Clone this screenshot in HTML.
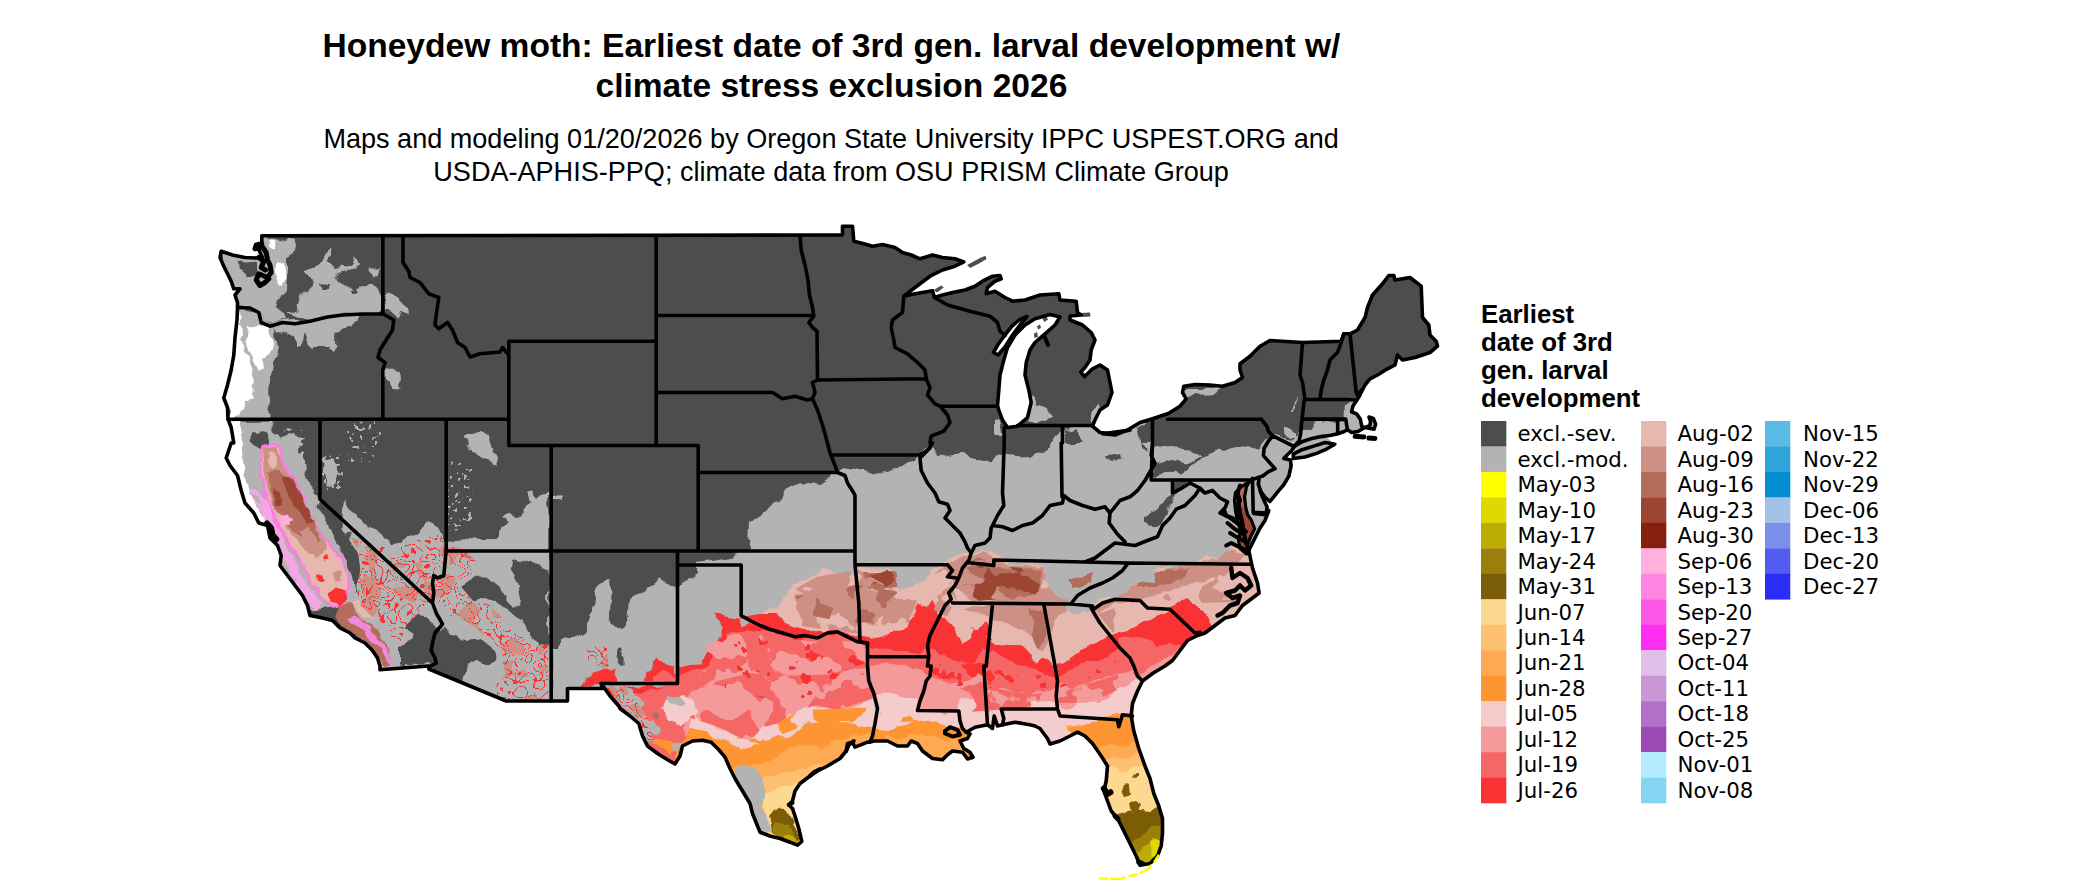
<!DOCTYPE html>
<html><head><meta charset="utf-8"><title>Honeydew moth</title>
<style>
html,body{margin:0;padding:0;background:#fff}
svg{display:block}
.t{font-family:"Liberation Sans",Arial,sans-serif;font-weight:bold;font-size:33.55px;text-anchor:middle;fill:#000}
.s{font-family:"Liberation Sans",Arial,sans-serif;font-size:27.07px;text-anchor:middle;fill:#000}
.lt{font-family:"Liberation Sans",Arial,sans-serif;font-weight:bold;font-size:25.8px;fill:#000}
.ll{font-family:"DejaVu Sans",Verdana,sans-serif;font-size:21.3px;fill:#000}
.b{fill:none;stroke:#000;stroke-width:3.6;stroke-linejoin:round;stroke-linecap:round}
</style></head><body>
<svg width="2100" height="892" viewBox="0 0 2100 892">
<rect width="2100" height="892" fill="#fff"/>
<defs>
<filter id="rough" x="-5%" y="-5%" width="110%" height="110%" color-interpolation-filters="sRGB"><feTurbulence type="fractalNoise" baseFrequency="0.045" numOctaves="3" seed="7" result="n"/><feDisplacementMap in="SourceGraphic" in2="n" scale="14" xChannelSelector="R" yChannelSelector="G"/></filter>
<filter id="rough2" x="-5%" y="-5%" width="110%" height="110%" color-interpolation-filters="sRGB"><feTurbulence type="fractalNoise" baseFrequency="0.09" numOctaves="2" seed="3" result="n"/><feDisplacementMap in="SourceGraphic" in2="n" scale="7" xChannelSelector="R" yChannelSelector="G"/></filter>
<filter id="desert" x="0" y="0" width="100%" height="100%" color-interpolation-filters="sRGB">
<feTurbulence type="fractalNoise" baseFrequency="0.05" numOctaves="2" seed="11" result="n"/>
<feColorMatrix in="n" type="matrix" values="0 0 0 0 0.976  0 0 0 0 0.2  0 0 0 0 0.2  2.2 0 0 0 -0.6" result="a"/>
<feComponentTransfer in="a" result="lines"><feFuncA type="discrete" tableValues="0 0 0 0 0 1 0 0 0 0 0 1 0 0 0 0 0 1 0 0 0 0 0 0"/></feComponentTransfer>
<feColorMatrix in="n" type="matrix" values="0 0 0 0 0.8  0 0 0 0 0.565  0 0 0 0 0.518  0 2.2 0 0 -0.6" result="b"/>
<feComponentTransfer in="b" result="blobs"><feFuncA type="discrete" tableValues="0 0 0 0 0 0 0 0 0 0 0 0 0 0 1 1 1 1 1 1"/></feComponentTransfer>
<feMerge result="m"><feMergeNode in="SourceGraphic"/><feMergeNode in="blobs"/><feMergeNode in="lines"/></feMerge>
<feComposite in="m" in2="SourceAlpha" operator="in"/>
</filter>
<filter id="blobs50" x="0" y="0" width="100%" height="100%" color-interpolation-filters="sRGB"><feTurbulence type="fractalNoise" baseFrequency="0.035" numOctaves="3" seed="21" result="n"/><feColorMatrix in="n" type="matrix" values="0 0 0 0 0  0 0 0 0 0  0 0 0 0 0  60.0 0 0 0 -30.0" result="m"/><feComposite in="SourceGraphic" in2="m" operator="in"/></filter>
<filter id="blobs30" x="0" y="0" width="100%" height="100%" color-interpolation-filters="sRGB"><feTurbulence type="fractalNoise" baseFrequency="0.04" numOctaves="3" seed="5" result="n"/><feColorMatrix in="n" type="matrix" values="0 0 0 0 0  0 0 0 0 0  0 0 0 0 0  60.0 0 0 0 -34.199999999999996" result="m"/><feComposite in="SourceGraphic" in2="m" operator="in"/></filter>
<filter id="speck" x="0" y="0" width="100%" height="100%" color-interpolation-filters="sRGB"><feTurbulence type="fractalNoise" baseFrequency="0.22" numOctaves="2" seed="9" result="n"/><feColorMatrix in="n" type="matrix" values="0 0 0 0 0  0 0 0 0 0  0 0 0 0 0  60.0 0 0 0 -38.4" result="m"/><feComposite in="SourceGraphic" in2="m" operator="in"/></filter>
<filter id="blobs12" x="0" y="0" width="100%" height="100%" color-interpolation-filters="sRGB"><feTurbulence type="fractalNoise" baseFrequency="0.06" numOctaves="3" seed="8" result="n"/><feColorMatrix in="n" type="matrix" values="0 0 0 0 0  0 0 0 0 0  0 0 0 0 0  60.0 0 0 0 -39.300000000000004" result="m"/><feComposite in="SourceGraphic" in2="m" operator="in"/></filter>
<clipPath id="land"><path d="M261.8 235.8L842.5 235L842.5 226.2L852.5 226.2L853.8 241.2L863.8 243.8L872.5 246.2L882.5 244.5L895 247.5L902.5 252.5L911.2 255L920 258.8L932.5 255L942.5 257.5L955 258.8L963.8 262L955 266.2L942.5 270L930 276.2L920 283.8L910 291.2L903.8 296.2L915 293.8L932.5 290.8L934.5 297.5L942.5 295L952.5 292.5L965 290L975 286.2L982.5 281.2L992.5 276.2L1000 275.5L1001.2 278.8L995 281.2L987.5 287.5L986.2 293.8L995 291.2L1005 297.5L1012.5 301.2L1025 300L1040 295L1058.8 293.8L1060 300L1076.2 301.2L1077.5 312.5L1081.2 315L1070 316L1070 320L1082.5 325L1091.2 332.5L1095 340L1091.2 350L1090 360L1085 367.5L1080.8 372L1084.5 376.5L1092.5 368.8L1100 365L1107.5 370L1110 382.5L1112 392.5L1107.5 405L1100 410L1095 420L1092.5 426.2L1100 432.5L1115 433.8L1130 430L1102.5 433.8L1115 435L1127.5 430L1140 422.5L1152.5 418.8L1167.5 413.8L1170 412.5L1180 406.2L1186.2 398.8L1182.5 392.5L1183.8 386.2L1195 384.5L1210 385L1222.5 386.2L1235 382.5L1242.5 377.5L1240 370L1240 363.8L1250 356.2L1260 346.2L1270 340.5L1302.5 342.5L1341.2 341.2L1343.8 333.8L1350 333.8L1357.5 330L1365 317.5L1367.5 307.5L1372.5 295L1382.5 283.8L1388.8 275.5L1393.8 275.5L1395 280L1410 277.5L1421.2 286.2L1422.5 317.5L1428.8 325L1430 335L1436.2 341.2L1437.5 346.2L1430 352.5L1415 357.5L1402.5 360L1397.5 355L1395 365L1387.5 368.8L1377.5 375L1370 378.8L1365 385L1361.2 392.5L1357.5 395L1361.8 390L1359.6 395.8L1356.7 400.2L1353 406L1351.6 411.9L1356.7 414L1360.3 419.1L1361.8 426.4L1369 428.2L1374.1 429.3L1375.6 424.2L1373.4 418.4L1369 417L1370.5 421.3L1369.8 425.7L1363.2 428.2L1358.1 431.5L1351.6 432.6L1347.2 429.6L1344.3 431.5L1337.7 433.7L1331.2 435.2L1321 436.6L1310.8 438.8L1302 441.7L1294.7 446.1L1291.1 451.2L1287.4 454.8L1283.8 458.5L1290.4 460L1291.1 465.8L1288.9 476L1283.8 484.7L1278.7 490.6L1272.9 497.8L1270 501.5L1265.6 497.8L1261.2 492L1258.3 484.7L1259 479.2L1258.3 483.3L1260.5 492L1264.1 500.8L1267 506.6L1266.3 513.1L1268.8 510.5L1265 520.5L1260 528L1255 538L1251.2 545.5L1248.8 550.5L1252.5 568L1257.5 583L1259.2 593L1252.5 598L1242.5 605.5L1235 615.5L1225 618L1215 625.5L1205 633L1197.5 635.5L1187.5 640.5L1180 650.5L1172.5 660.5L1165 666L1165 666L1152.5 673.5L1142.5 681L1137.5 691L1132.5 703.5L1131.2 716L1133.8 731L1138.8 748.5L1145 766L1150 778.5L1153.8 793.5L1158.8 806L1162.5 818.5L1162.5 833.5L1161.2 846L1157.5 856L1150 863.5L1140 865.2L1136.2 856L1130 843.5L1123.8 831L1117.5 818.5L1111.2 811L1107.5 801L1103.8 791L1106.2 781L1107.5 766L1101.2 756L1092.5 743.5L1085 736L1077.5 732.2L1070 736L1060 741L1050 744L1047.5 738.5L1040 728.5L1035 726L1030 724.8L1015 722.2L1002.5 724.8L997.5 726L994.2 716L992.5 728.5L987.5 724.8L975 727.2L966.2 732.2L970 734L967.5 738.5L960 741L963.8 748.5L970 752.2L973 757.2L967.5 759L962.5 752.2L952.5 751L947.5 754.8L942.5 759.8L932.5 758.5L922.5 751L917.5 743.5L911.2 741L907.5 746L897.5 746L887.5 741L875 741L867.5 742.2L855 747.2L852.5 742.2L847.5 743.5L846.2 751L840 758.5L827.5 766L817.5 771L810 776L800 783.5L795 791L792.5 801L788.8 804.8L792.5 808.5L795 816L798.8 828.5L801.8 841.5L797.5 845.2L790 842.2L780 838.5L770 836L760 832.2L757.5 826L752.5 813.5L750 803.5L742.5 791L735 778.5L730 768.5L725 757.2L718.8 749.8L711.2 742.2L702.5 740.2L692.5 741L682.5 746L680 756L675 764L667.5 759.8L657.5 753.5L647.5 746L642.5 736L638.8 723.5L630 716L620 708.5L618.8 706L610 696L601.2 683.5L602.5 688.5L567.5 688.5L567.5 701L551.2 701L506.2 701L428.8 669L428.8 666L380 669.8L380 666L377.5 658L372.5 650.5L365 643L355 638L350 633L340 628L332.5 620.5L322.5 618L310 615.5L307.5 605.5L302.5 595.5L295 585.5L287.5 575.5L280 565.5L281.2 555.5L277.5 545.5L270 538L267.5 525.5L258.8 523L253.8 513L245 503L241.2 490.5L237.5 475.5L230 465.5L226.2 458L231.2 443L233.8 443L231.2 427.5L228 419.2L227.5 407.5L223.8 398L227.5 385L231.2 370L233.8 355L235 337.5L237 320L237.5 307.5L237.5 302.5L235 295L240 288.8L233.8 288.8L231.2 281.2L227.5 273.8L223.8 266.2L220 257.5L221.2 251.2L232.5 255L245 257.5L257.5 258L262.5 257.5L258.8 250L261.8 243.8L261.8 235.8ZM1293.3 454.1L1294.7 447.6L1302 443.2L1313.7 439.5L1325.3 436.9L1334.8 444.2L1325.3 449.7L1316.6 453.4L1304.9 457L1293.3 458.5ZM967.2 265L980 258L985.5 255.8L986.5 259L980 263L970 268ZM933.8 290L941.2 285.5L943.8 287.5L937 292.5ZM1081.2 313L1090 312.5L1090.5 316.5L1082 317ZM1355.2 435.9L1360.3 434.4L1363.9 436.6L1359.6 438.8ZM1368.3 437.4L1373.4 436.3L1375.6 438.8L1371.2 440.3Z"/></clipPath>
</defs>
<text class="t" x="831.4" y="57.3">Honeydew moth: Earliest date of 3rd gen. larval development w/</text>
<text class="t" x="831.4" y="96.9">climate stress exclusion 2026</text>
<text class="s" x="831.1" y="148">Maps and modeling 01/20/2026 by Oregon State University IPPC USPEST.ORG and</text>
<text class="s" x="831.1" y="181">USDA-APHIS-PPQ; climate data from OSU PRISM Climate Group</text>
<g clip-path="url(#land)">
<rect x="200" y="200" width="1300" height="692" fill="#4d4d4d"/>
<g filter="url(#rough)">
<path fill="#b3b3b3" d="M620 633L627.5 618L632.5 598L645 590.5L660 578L670 585.5L682.5 583L695 578L695 563L715 560.5L730 558L748.8 548L750 525.5L760 515.5L770 505.5L780 500.5L785 490.5L800 483L820 485.5L837.5 475.5L845 469.2L850 468L867.5 473L885 470.5L900 468L912.5 460.5L920 455.5L932.5 445.5L940 458L952.5 455.5L965 453L977.5 458L990 459.2L1005 454.2L1020 456.8L1037.5 454.2L1050 445.5L1060 435L1070 429.5L1095 423.8L1145 418.8L1115 417.5L1151.2 417.5L1153 443L1153.8 478L1165 475.5L1175 470.5L1180 475.5L1190 468L1200 458L1215 451L1230 450.5L1245 446L1260 447.5L1265 440.5L1272 436L1290 440L1330 420L1345 430L1400 430L1500 600L1500 900L560 900L560 640Z"/>
<path fill="#b3b3b3" d="M552.3 649.8L563.3 651.4L575.9 646.7L585.3 634.1L588.4 618.4L593.2 605.9L597.9 587L608.9 579.2L610.4 593.3L607.3 605.9L610.4 621.6L619.8 629.4L627.7 618.4L632.4 599.6L648.1 587L663.8 580.1L679.5 583.9L701.5 571.3L720 568.2L720 710.2L552.3 710.2Z"/>
<path fill="#b3b3b3" d="M343.9 500.2L349.5 509.1L358.4 515.9L367.4 524.8L376.4 529.3L385.3 536L394.3 542.7L403.3 540.5L412.2 536L425 527.1L428.3 524.2L437.7 530.5L447.1 539.9L462.8 538.4L481.7 539.9L497.4 539.9L500.5 530.5L506.8 524.2L503.6 514.8L508.4 511.7L516.2 521.1L525.6 511.7L531.9 502.2L525.6 492.8L531.9 491.2L538.2 499.1L548.2 491.2L548.2 550.9L552.3 649.8L552.3 710.2L400 710.2L340.5 607.7L349.5 605.5L354 592.1L362.9 587.6L358.4 571.9L349.5 554L340.5 540.5Z"/>
<path fill="#b3b3b3" d="M462.8 436.3L487.9 434.7L494.2 455.1L495.8 469.3L484.8 458.3L472.2 452L467.5 445.7Z"/>
<path fill="#b3b3b3" d="M553.9 494.4L564.9 494.4L564.9 499.1L553.9 499.1Z"/>
<path fill="#4d4d4d" d="M462.8 583.9L475.4 577.6L486.4 577.6L497.4 587L505.2 599.6L513.1 605.9L520.9 596.5L517.8 580.8L511.5 568.2L513.1 558.8L525.6 561.9L538.2 566.6L548.2 568.2L548.2 646.7L538.2 646.7L531.9 634.1L519.3 618.4L506.8 609L494.2 601.2L484.8 598L472.2 601.2L466 605.9L459.7 596.5Z"/>
<path fill="#4d4d4d" d="M431.4 637.3L444 631L453.4 634.1L466 643.6L478.5 638.9L491.1 646.7L497.4 659.3L491.1 665.6L475.4 659.3L466 668.7L462.8 681.3L431.4 671.8L429.8 649.8Z"/>
<path fill="#4d4d4d" d="M400 605.9L412.6 615.3L425.1 618.4L431.4 631L418.8 637.3L409.4 631L400 624.7Z"/>
<path fill="#4d4d4d" d="M400 646.7L418.8 643.6L431.4 656.1L431.4 664L400 665.6Z"/>
<path fill="#4d4d4d" d="M336 542.7L349.5 533.8L358.4 549.5L362.9 567.4L358.4 585.3L349.5 571.9L340.5 558.4Z"/>
<path fill="#4d4d4d" d="M371.9 558.4L385.3 571.9L394.3 589.8L403.3 605.5L394.3 605.5L383.1 585.3L371.9 571.9Z"/>
<path fill="#4d4d4d" d="M619.8 646.7L624.6 646.7L624.6 665.6L619.8 665.6Z"/>
<path fill="#b3b3b3" d="M239.7 421.7L271 421.7L273.3 432.9L282.2 439.7L291.2 432.9L300.2 437.4L297.9 448.6L304.6 466.5L302.4 473.3L313.6 489L322.6 509.1L331.5 527.1L340.5 540.5L349.5 554L358.4 571.9L362.9 587.6L354 592.1L349.5 605.5L340.5 607.7L304.6 612.2L300.2 594.3L282.2 571.9L277.8 558.4L266.5 522.6L248.6 493.4L245.3 466.5L240.8 453.1L243 437.4Z"/>
<path fill="#4d4d4d" d="M252 432.9L268.8 435.2L271 444.1L259.8 448.6L253.1 444.1Z"/>
<path fill="#ffffff" d="M227.3 420.6L239.7 421.7L243 437.4L240.8 453.1L245.3 466.5L248.6 482.2L248.6 493.4L255.3 504.6L266.5 515.9L266.5 522.6L255.3 522.6L239.7 500.2L224 464.3L226.2 437.4Z"/>
<path fill="#b3b3b3" d="M220.1 250.8L261.5 235.1L277.2 238.4L295.2 240.7L292.9 249.7L286.2 258.6L287.3 267.6L284 278.8L287.3 290L277.2 299L275 307.9L281.7 313.5L284 321.4L270.5 325.9L262.7 323.6L260.4 312.4L252.6 309L238 307.9L219 292.2Z"/>
<path fill="#b3b3b3" d="M298.5 302.3L301.9 294.5L308.6 290L315.3 283.3L306.4 273.2L310.9 268.7L317.6 265.3L324.3 256.4L331 247.4L332.1 254.1L326.5 262L335.5 267.6L340 263.1L353.4 264.2L356.8 258.6L362.4 265.3L355.7 268.7L346.7 267.6L337.7 269.8L334.4 275.4L337.7 281L346.7 286.6L353.4 290L364.6 286.6L371.4 282.1L378.1 288.9L381.4 299L382.6 312.4L366.9 312.9L344.5 313.5L326.5 316.9L308.6 321.4L299.6 318L284 314.6L290.7 313.5L299.6 310.2Z"/>
<path fill="#b3b3b3" d="M371.4 267.6L380.3 267.6L379.2 273.2L372.5 273.2Z"/>
<path fill="#4d4d4d" d="M323.2 282.1L331 283.3L329.9 288.9L324.3 288.9Z"/>
<path fill="#4d4d4d" d="M349 290L355.7 288.9L356.8 293.4L350.1 294Z"/>
<path fill="#4d4d4d" d="M239.1 260.9L254.8 259.7L255.9 270.9L245.9 273.9L239.6 268.7Z"/>
<path fill="#ffffff" d="M275 262L282.2 260.9L283.5 276.5L279.9 285.1L274.5 282.1Z"/>
<path fill="#ffffff" d="M269.4 238.4L275.4 238.9L275 247.4L270.5 246.3Z"/>
<path fill="#b3b3b3" d="M270.5 325.9L284 322.5L308.6 321.4L326.5 316.9L344.5 313.5L357.9 313.5L357.9 321.4L349 328.1L335.5 331.5L332.1 337.1L332.1 352.7L327.7 347.1L315.3 347.1L313.1 350.5L308.6 341.5L305.2 334.8L300.8 346L295.2 347.1L289.6 334.8L284 330.3L275 330.3Z"/>
<path fill="#b3b3b3" d="M238 307.9L260.4 312.4L262.7 323.6L275 330.3L277.2 350.5L273.9 370.7L269.4 390.8L268.3 418.2L229 418.2L224.6 397.6L232.4 359.5L235.8 325.9Z"/>
<path fill="#ffffff" d="M248.1 325.9L266 327L272.8 337.1L270.5 350.5L263.8 359.5L264.9 368.4L258.2 370.7L253.7 364L248.1 350.5L247 337.1Z"/>
<path fill="#ffffff" d="M236.9 314.6L241.4 314.6L243.6 341.5L248.1 364L254.8 381.9L252.6 397.6L243.6 402.1L239.1 415.5L230.2 418.2L223.4 397.6L231.3 359.5L234.7 325.9Z"/>
<path fill="#b3b3b3" d="M385.9 299L391.5 295.6L400.5 299L407.2 307.9L406.1 313.5L400.5 310.2L398.3 319.1L394.9 314.6L387.1 312.4Z"/>
<path fill="#b3b3b3" d="M383.7 370.7L393.8 368.4L401.6 377.4L402.7 390.8L396 389.7L387.1 381.9Z"/>
<path fill="#b3b3b3" d="M324.8 459.8L336 457.6L340.5 471L336 486.7L327.1 486.7L323.7 473.3Z"/>
<path fill="#b3b3b3" d="M1030 395L1035 392.5L1036.2 405L1052.5 412.5L1045 420L1032.5 422.5L1027.5 420Z"/>
<path fill="#b3b3b3" d="M1090 412.5L1100 403.8L1101.2 410L1092.5 423Z"/>
<path fill="#b3b3b3" d="M995 417.5L1000 420L1002.5 435L995 435Z"/>
<path fill="#b3b3b3" d="M1183 387L1222.5 387L1215 392.5L1195 392.5L1186.2 398.8Z"/>
<path fill="#b3b3b3" d="M1283.1 426.4L1287.4 427.9L1293.3 432.3L1296.2 433.7L1296.2 438.1L1287.4 438.1L1284.5 433.7Z"/>
<path fill="#b3b3b3" d="M1291.8 411.9L1296.2 398.7L1297.3 398.7L1294 411.9Z"/>
<path fill="#b3b3b3" d="M1300.6 433L1310.8 430.8L1313.7 423.5L1321 422.1L1326.8 426.4L1334.1 425L1337.7 419.9L1345.7 419.1L1345.7 404.6L1353 400.2L1360.3 398.7L1382.2 426.4L1374.9 442.5L1294.7 448.3Z"/>
<path fill="#b3b3b3" d="M1153.8 448L1170 445L1190 446.8L1202.5 454.2L1190 461.8L1175 459.2L1165 465.5L1153.8 463Z"/>
<path fill="#4d4d4d" d="M1145 518L1152.5 513L1165 503L1172.5 495.5L1180 490.5L1176.2 500.5L1167.5 510.5L1160 520.5L1150 526.8L1145 523Z"/>
<path fill="#4d4d4d" d="M1175 480.5L1190 480.5L1180 490.5L1175 493Z"/>
<path fill="#4d4d4d" d="M1110 455.5L1120 453L1121.2 460.5L1112.5 463Z"/>
<path fill="#4d4d4d" d="M1065 432.5L1080 431.2L1082.5 443L1065 443Z"/>
<path fill="#4d4d4d" d="M1136.2 427.5L1152 420L1152.5 443L1140 443L1150 450.5L1140 448Z"/>
</g>
<g filter="url(#rough2)">
<path fill="#e6b8af" d="M781.4 604.2L786.4 591.8L798.7 581.9L816 574.5L823.4 567.1L833.2 572.1L843.1 579.5L853 574.5L857.9 567.1L872.7 567.1L887.5 568.4L897.4 577L897.4 589.3L909.7 586.9L922.1 579.5L934.4 569.6L946.7 562.2L959.1 554.8L968.9 552.3L978.8 554.8L991.1 552.3L1003.5 557.3L960 554.8L974.8 552.3L984.7 549.9L992.1 554.8L1004.4 559.7L1009.3 564.7L1016.7 567.1L1024.2 564.7L1034 564.7L1043.9 565.9L1132.7 565.9L1154.9 567.1L1164.8 567.1L1177.1 567.1L1189.5 567.1L1196.9 562.2L1204.3 557.3L1216.6 558.5L1226.5 552.3L1231.4 544.9L1238.8 540L1268.4 540L1500 600L1500 900L560 900L759.2 614Z"/>
<path fill="#cc9084" d="M793.8 596.7L811 589.3L828.3 589.3L848 591.8L857.9 584.4L872.7 589.3L892.5 591.8L897.4 604.2L887.5 614L872.7 623.9L853 621.4L838.2 614L818.4 614L803.6 611.6Z"/>
<path fill="#cc9084" d="M946.7 564.7L961.5 557.3L978.8 557.3L1003.5 559.7L960 557.3L984.7 552.3L1009.3 565.9L1043.9 567.1L1045.1 577L1041.4 589.3L1053.8 584.4L1063.6 579.5L1078.4 577L1093.2 572.1L1083.4 586.9L1071 601.7L1066.1 611.6L1053.8 621.4L1048.8 638.7L1043.9 651L1036.5 643.6L1021.7 628.8L1004.4 623.9L984.7 614L960 609.1L996.1 599.2L971.4 601.7L956.6 589.3Z"/>
<path fill="#cc9084" d="M1117.9 596.7L1132.7 584.4L1154.9 584.4L1164.8 568.4L1196.9 563.4L1216.6 559.7L1231.4 547.4L1246.2 554.8L1231.4 569.6L1206.7 579.5L1182.1 586.9L1157.4 594.3L1132.7 601.7L1113 604.2L1098.2 614L1093.2 609.1Z"/>
<path fill="#b46c5d" d="M845.6 609.1L857.9 606.6L872.7 611.6L872.7 621.4L857.9 623.9L848 619Z"/>
<path fill="#b46c5d" d="M860.4 572.1L897.4 572.1L897.4 586.9L877.6 589.3L862.8 584.4Z"/>
<path fill="#b46c5d" d="M966.5 567.1L1003.5 562.2L960 562.2L979.7 559.7L997 567.1L1021.7 569.6L1041.4 569.6L1041.4 586.9L1029.1 596.7L1009.3 599.2L997 589.3L979.7 584.4L960 584.4L1001 589.3L983.7 581.9Z"/>
<path fill="#b46c5d" d="M1132.7 577L1154.9 574.5L1164.8 569.6L1189.5 569.6L1182.1 579.5L1157.4 586.9L1137.6 586.9Z"/>
<path fill="#b46c5d" d="M1026.6 609.1L1043.9 611.6L1046.4 633.8L1039 648.6L1031.6 638.7L1034 621.4Z"/>
<path fill="#9c4532" d="M870.2 574.5L887.5 570.8L894.9 579.5L885 585.6L872.7 583.2Z"/>
<path fill="#9c4532" d="M997 574.5L1016.7 572.1L1041.4 584.4L1034 594.3L1014.3 589.3L999.5 584.4Z"/>
<path fill="#b3b3b3" d="M1045.1 565.9L1157.4 565.9L1154.9 572.1L1154.9 583.2L1142.6 581.5L1132.7 583.9L1130.2 589.3L1117.9 596.3L1098.2 599.2L1093.2 607.9L1088.3 612.8L1076 614L1066.1 607.9L1068.6 600.4L1058.7 595.5L1051.3 589.3L1045.1 579.5Z"/>
<path fill="#b3b3b3" d="M857.9 567.6L872.7 567.6L890 569.1L897.4 577L897.4 589.3L909.7 586.9L922.1 579.5L931.9 570.8L931.9 565.9L857.9 565.9Z"/>
<path fill="#b46c5d" d="M1068.6 581.9L1078.4 577L1093.2 572.1L1090.8 579.5L1078.4 586.9L1071 588.1Z"/>
<path fill="#f93333" d="M600.5 686.8L678.2 686.8L678.2 667.6L689.3 665L701.5 664.6L705.5 652.9L713.6 646.8L721.6 638.3L721.6 626.2L714 612.5L725.7 616.5L737.8 618.6L741.8 626.2L753.9 622.6L737 619L741.9 617L759.2 614L774 614L786.4 623.9L803.6 628.8L823.4 631.3L840.6 631.3L857.9 636.2L872.7 638.7L882.6 636.2L894.9 631.3L907.3 626.4L912.2 614L917.1 604.2L927 609.1L933.2 599.2L936.9 609.1L946.7 619L956.6 633.8L961.5 643.6L971.4 636.2L978.8 621.4L986.2 621.4L991.1 638.7L1003.5 643.6L960 621.4L969.9 616.5L984.7 621.4L987.1 638.7L997 646.1L1009.3 643.6L1024.2 646.1L1031.6 656L1036.5 663.4L1043.9 658.4L1053.8 665.8L1063.6 663.4L1073.5 656L1083.4 648.6L1093.2 643.6L1105.6 638.7L1113 633.8L1127.8 631.3L1142.6 621.4L1157.4 616.5L1169.7 611.6L1177.1 601.7L1187 598L1196.9 604.2L1204.3 614L1209.2 621.4L1221.5 643.6L1500 600L1500 900L560 900L600.5 842.2Z"/>
<path fill="#f56666" d="M600.5 696.9L661.1 688.8L681.3 675.1L693.4 671L707.5 667L713.6 654.9L725.7 644.8L727.7 632.7L741.8 630.7L760 630.3L764.2 628.8L781.4 636.2L793.8 638.7L808.6 638.7L823.4 636.2L840.6 633.8L857.9 638.7L870.2 648.6L887.5 651L904.8 651L922.1 653.5L931.9 648.6L946.7 656L959.1 660.9L971.4 663.4L983.7 648.6L996.1 656L1008.4 660.9L960 663.4L972.3 678.2L984.7 673.2L992.1 651L1001.9 656L1014.3 663.4L1029.1 668.3L1041.4 673.2L1053.8 678.2L1063.6 673.2L1078.4 665.8L1093.2 660.9L1108 656L1117.9 648.6L1117.9 638.7L1132.7 636.2L1147.5 638.7L1157.4 646.1L1172.2 643.6L1184.5 648.6L1191.9 668.3L1500 600L1500 900L560 900L600.5 842.2Z"/>
<path fill="#f49a9a" d="M685.2 697.9L700 688L714.8 678.2L729.6 680.6L749.3 673.2L764.2 676.9L774 680.6L786.4 674.5L803.6 670.8L816 668.3L828.3 673.2L848 670.8L870.2 665.8L887.5 663.4L904.8 665.8L922.1 670.8L934.4 678.2L949.2 683.1L966.5 680.6L978.8 673.2L991.1 678.2L1008.4 674.5L960 688L974.8 697.9L987.1 690.5L999.5 688L1016.7 693L1034 693L1053.8 688L1058.7 683.1L1071 688L1088.3 683.1L1103.1 678.2L1117.9 673.2L1132.7 668.3L1137.6 678.2L1147.5 668.3L1157.4 663.4L1169.7 656L1179.6 651L1187 663.4L1500 600L1500 900L560 900L685.2 786.7Z"/>
<path fill="#f4cccc" d="M690.1 717.6L700 720.1L719.7 727.5L737 737.4L749.3 742.3L761.7 727.5L781.4 722.6L798.7 710.2L816 705.3L838.2 710.2L857.9 707.8L872.7 697.9L887.5 690.5L904.8 697.9L917.1 697.9L922.1 710.2L956.6 710.2L961.5 697.9L983.7 700.4L1001 710.2L960 712.7L974.8 710.2L987.1 712.7L1004.4 707.8L1021.7 707.8L1034 700.4L1053.8 702.8L1066.1 710.2L1078.4 702.8L1093.2 702.8L1108 697.9L1117.9 688L1132.7 683.1L1142.6 678.2L1147.5 688L1500 600L1500 900L560 900L690.1 786.7Z"/>
<path fill="#fd9533" d="M690.1 727.5L700 730L714.8 737.4L732.1 744.8L744.4 749.7L759.2 742.3L774 737.4L793.8 734.9L808.6 722.6L828.3 720.1L848 722.6L870.2 727.5L887.5 730L904.8 725L922.1 720.1L936.9 722.6L946.7 727.5L961.5 728.7L971.4 737.4L1020 737.4L1020 900L600 900Z"/>
<path fill="#fd9533" d="M1088.3 727.5L1098.2 725L1110.5 722.6L1113 712.7L1130.2 715.2L1147.5 717.6L1157.4 762.1L1098.2 762.1Z"/>
<path fill="#fdaa52" d="M725 771L740 766L760 763.5L775 758.5L790 748.5L805 743.5L820 748.5L835 741L850 736L870 733.5L870 748.5L795 846L745 846Z"/>
<path fill="#fdaa52" d="M885 736L900 738.5L915 733.5L932.5 736L945 741L955 738.5L975 766L895 766Z"/>
<path fill="#fdc070" d="M750 783.5L765 776L780 773.5L795 771L810 766L820 763.5L825 771L795 846L760 846Z"/>
<path fill="#fdd890" d="M762.5 796L775 788.5L790 786L800 783.5L805 791L800 846L770 846Z"/>
<path fill="#b3b3b3" d="M733.8 769.8L745 764L755 768.5L762.5 778.5L765 791L762 806L767.5 821L771.8 833L758.8 832.2L751.2 813.5L741.2 791Z"/>
<path fill="#7b5c07" d="M769.2 814.8L780 807.2L790 813.5L795 826L800.5 838.5L795 846L782.5 839.8L772 834Z"/>
<path fill="#9a800a" d="M773 824L782.5 822.2L792.5 828.5L798.8 839.8L795 846L782.5 839.8L772.5 834Z"/>
<path fill="#bdac03" d="M782.5 833.5L795 836L800 842.2L795 846L785 841Z"/>
<path fill="#fd9533" d="M1065 726L1090 723.5L1115 713.5L1135 713.5L1165 751L1090 751Z"/>
<path fill="#fdaa52" d="M1097.5 748.5L1110 743.5L1122.5 748.5L1135 741L1145 748.5L1150 766L1097.5 766Z"/>
<path fill="#fdc070" d="M1100 761L1112.5 756L1125 759.8L1137.5 753.5L1150 761L1152.5 773.5L1100 773.5Z"/>
<path fill="#fdd890" d="M1100 771L1112.5 766L1122.5 771L1140 764.8L1152.5 771L1170 826L1100 826Z"/>
<path fill="#7b5c07" d="M1115 816L1125 812.2L1140 809.8L1150 811L1160 806L1170 866L1115 866Z"/>
<path fill="#7b5c07" d="M1130 802.2L1136.2 799.8L1140 806L1137.5 812.2L1131.2 811Z"/>
<path fill="#7b5c07" d="M1122.5 786L1128.8 784.8L1130 796L1125 797.2Z"/>
<path fill="#7b5c07" d="M1132 773.5L1137 773L1137 777.5L1132.5 778Z"/>
<path fill="#9a800a" d="M1122.5 836L1132.5 841L1145 833.5L1152.5 826L1162.5 826L1165 866L1125 866Z"/>
<path fill="#bdac03" d="M1127.5 848.5L1140 851L1150 843.5L1157.5 846L1165 866L1130 866Z"/>
<path fill="#e0d800" d="M1150 841L1157.5 838.5L1163.8 841L1162.5 856L1152.5 858.5Z"/>
<path fill="#e6b8af" d="M1235 583L1247.5 578L1265 583L1265 618L1230 618L1220 603Z"/>
<path fill="#b3b3b3" d="M1252.5 480.5L1272.5 483L1271.2 510.5L1265 523L1257.5 535.5L1251.2 545.5L1248.8 540.5L1250.5 525.5L1248.8 508L1245 493Z"/>
<path fill="#b46c5d" d="M1246.6 483.4L1240.5 487.4L1235.5 492.5L1234.5 500.5L1235.5 510.6L1237.5 520.7L1240.5 530.8L1238.5 540.9L1240.5 548.9L1246.6 554L1248.6 554L1247.6 544.9L1250.6 536.8L1254.6 528.8L1251.6 520.7L1247.6 514.6L1245.6 506.6L1244.6 496.5L1246.6 486.4L1249.6 481.4Z"/>
<path fill="#9c4532" d="M1240.5 506.6L1245.6 507.6L1249.6 520.7L1252.6 528.8L1248.6 540.9L1245.6 552L1241.5 546.9L1240.5 530.8L1238.5 518.7Z"/>
<path fill="#ff58e8" d="M1261.2 492L1265.6 494.9L1270 500.8L1266.3 502.9L1262.7 497.8Z"/>
<path fill="#ff58e8" d="M1280 488L1283.8 484.2L1286.2 486.8L1282 491.8Z"/>
</g>
<g filter="url(#rough2)">
<path fill="#f3a6e4" d="M248.6 489L259.8 491.2L268.8 504.6L273.3 515.9L280 522.6L282.2 540.5L291.2 554L300.2 571.9L309.1 587.6L320.3 603.3L313.6 612.2L306.9 598.8L300.2 589.8L291.2 571.9L282.2 558.4L280 545L271 536L268.8 522.6L255.3 504.6Z"/>
<path fill="#b3b3b3" d="M250.9 493.4L258.7 495.7L263.2 504.6L257.6 503.5Z"/>
<path fill="none" stroke="#ff7ae6" stroke-width="5" d="M267.7 446.4L273.3 445.3L278.9 448.6L282.2 459.8L289 475.5L297.9 489L304.6 504.6L311.4 520.3L320.3 536L331.5 549.5L340.5 558.4L345 571.9L347.2 587.6L343.9 601L336 605.5L327.1 602.1L320.3 592.1L311.4 580.8L306.9 569.6L300.2 558.4L291.2 545L282.2 531.5L275.5 515.9L268.8 500.2L264.3 482.2L259.8 464.3L263.2 453.1Z"/>
<path fill="#e6b8af" d="M267.7 446.4L273.3 445.3L278.9 448.6L282.2 459.8L289 475.5L297.9 489L304.6 504.6L311.4 520.3L320.3 536L331.5 549.5L340.5 558.4L345 571.9L347.2 587.6L343.9 601L336 605.5L327.1 602.1L320.3 592.1L311.4 580.8L306.9 569.6L300.2 558.4L291.2 545L282.2 531.5L275.5 515.9L268.8 500.2L264.3 482.2L259.8 464.3L263.2 453.1Z"/>
<path fill="#cc9084" d="M265.4 448.6L275.5 446.4L282.2 459.8L290.1 475.5L299 489L305.8 504.6L313.6 520.3L322.6 537.1L327.1 549.5L315.9 558.4L304.6 549.5L293.4 536L284.5 524.8L275.5 511.4L269.9 497.9L265.4 480L261.6 462.1Z"/>
<path fill="#b46c5d" d="M267.7 471L280 468.8L290.1 480L300.2 493.4L306.9 509.1L314.7 524.8L320.3 538.3L313.6 547.2L304.6 540.5L293.4 531.5L284.5 522.6L275.5 509.1L271 495.7Z"/>
<path fill="#9c4532" d="M282.2 475.5L290.1 477.8L300.2 492.3L306.9 506.9L313.6 522.6L308 524.8L301.3 513.6L293.4 504.6L286.7 491.2Z"/>
<path fill="#9c4532" d="M273.3 489L280 491.2L282.2 504.6L276.6 506.9Z"/>
<path fill="#e6b8af" d="M268.8 453.1L274.4 452L277.8 464.3L272.1 468.8L267.7 462.1Z"/>
<path fill="#cc9084" d="M300.2 531.5L309.1 527.1L318.1 540.5L313.6 554L304.6 549.5Z"/>
<path fill="#cc9084" d="M333.8 571.9L340.5 569.6L341.6 580.8L336 583.1Z"/>
<path fill="#ffb0dd" d="M278.9 515.9L286.7 513.6L291.2 519.2L289 524.8L282.2 524.8Z"/>
<path fill="#f93333" d="M329.3 592.1L337.1 587.6L346.1 592.1L347.2 601L340.5 605.5L331.5 602.1Z"/>
<path fill="#f93333" d="M323 556.2L327.1 555.1L328.2 559.6L324.4 560.7Z"/>
<path fill="#f93333" d="M315.9 576.8L322.6 575.9L323.7 580.4L317 581.3Z"/>
<path fill="#b46c5d" d="M340 605.5L350 603L360 618L375 628L385 643L392.5 666L382.5 666L375 650.5L365 640.5L350 630.5L340 623L335 615.5Z"/>
<path fill="#e6b8af" d="M350 603L365 598L375 605.5L390 610.5L400 618L390 623L375 618L362.5 615.5Z"/>
<path fill="#f08ad8" d="M347.5 618L355 615.5L370 628L382.5 643L390 658L395 666L391.2 666L380 648L365 633L350 623Z"/>
</g>
<g filter="url(#rough2)">
<path fill="#f93333" d="M580.4 686.8L586.4 678.7L594.5 672.7L606.6 668.6L614.7 670.6L615.1 682.3L580.4 687.2Z"/>
<path fill="#f93333" d="M644.9 672.7L653 666.6L657.1 656.5L665.1 664.6L675.2 666.6L677.6 682.3L644.9 682.3Z"/>
<path fill="#f56666" d="M653 676.7L661.1 670.6L669.2 672.7L677.2 676.7L677.6 682.3L653 682.3Z"/>
<path fill="#f4cccc" d="M665.1 700.9L681.3 694.9L693.4 700.9L697.4 713L681.3 725.1L669.2 721.1L663.1 709Z"/>
<path fill="#b3b3b3" d="M667.1 694.9L679.3 696.9L685.3 702.9L681.3 706L671.2 702.9L666.1 698.9Z"/>
<path fill="#b3b3b3" d="M620.7 686.8L632.8 688.8L644.9 704.9L640.9 709L628.8 696.9Z"/>
<path fill="#b3b3b3" d="M644.9 719.1L653 721.1L661.1 729.2L657.1 735.2L649 733.2L643.9 725.1Z"/>
<path fill="#b46c5d" d="M650.6 714L657.1 713.4L658.1 719.5L652 720.7Z"/>
<path fill="#fd9533" d="M649 741.3L661.1 739.3L673.2 741.3L681.3 743.3L677.2 749.3L669.2 754.4L661.1 746.3Z"/>
<path fill="#b3b3b3" d="M672.2 743.3L681.3 743.7L680.3 750.4L674.2 751.4Z"/>
<path fill="#b3b3b3" d="M679.3 622.2L684.3 621.2L685.3 626.2L680.3 627.2Z"/>
<path fill="#4d4d4d" d="M320 500.5L330 505.5L340 525.5L350 543L360 563L365 583L360 593L352.5 583L347.5 563L337.5 543L327.5 523L317.5 508Z"/>
<path fill="#4d4d4d" d="M400.5 604.8L412.7 612.8L424.8 616.9L434.9 624.9L440.9 633L434.9 641.1L432.8 659.3L428.8 661.3L406.6 661.3L400.5 649.2L406.6 641.1L416.7 633L408.6 620.9Z"/>
<path fill="#4d4d4d" d="M434.9 633L444.9 629L453 637.1L465.1 641.1L481.3 639.1L493.4 649.2L497.4 661.3L489.3 665.3L477.2 657.2L465.1 661.3L461.1 673.4L444.9 673.4L434.9 665.3Z"/>
<path fill="#4d4d4d" d="M461.1 586.6L477.2 578.5L493.4 580.5L501.5 592.7L493.4 600.7L481.3 596.7L469.2 600.7Z"/>
</g>
<g filter="url(#desert)">
<path fill="#b3b3b3" d="M352.1 538.2L364.2 540.2L380.4 546.2L396.5 550.3L408.6 542.2L424.8 538.2L440.9 534.1L444.9 546.2L461.1 548.3L469.2 554.3L481.3 566.4L469.2 576.5L453 580.5L444.9 590.6L434.9 600.7L424.8 604.8L416.7 614.9L406.6 624.9L400.5 641.1L392.5 641.1L386.4 624.9L372.3 616.9L360.2 604.8L356.1 586.6L360.2 570.5L358.2 554.3Z"/>
<path fill="#b3b3b3" d="M434.9 580.5L449 576.5L461.1 586.6L473.2 600.7L489.3 604.8L501.5 616.9L513.6 633L529.7 641.1L541.8 649.2L547.9 661.3L547.9 700L497.4 700L495.4 685.5L505.5 673.4L501.5 657.2L489.3 641.1L477.2 629L465.1 620.9L449 614.9L436.9 600.7Z"/>
<path fill="#b3b3b3" d="M540 644.4L548.1 644.4L548.1 698.9L540 698.9Z"/>
<path fill="#b3b3b3" d="M586.4 646.4L606.6 646.4L608.6 666.6L600.5 668.6L588.4 660.5Z"/>
<path fill="#b3b3b3" d="M606.6 684.8L624.8 686.8L644.9 713L653 741.3L644.9 741.3L636.9 721.1L620.7 704.9Z"/>
</g>
<g filter="url(#blobs50)">
<path fill="#f56666" d="M690.1 688L714.8 679.4L749.3 674.5L786.4 675.7L828.3 674.5L870.2 667.1L872.7 697.9L838.2 710.2L816 705.3L798.7 710.2L781.4 722.6L761.7 727.5L749.3 742.3L719.7 727.5L690.1 717.6Z"/>
<path fill="#f49a9a" d="M700 648.6L732.1 633.8L764.2 633.8L808.6 641.2L857.9 641.2L870.2 651L870.2 665.8L828.3 673.2L786.4 674.5L749.3 673.2L700 685.6Z"/>
<path fill="#f56666" d="M960 690.5L999.5 689.3L1034 694.2L1071 689.3L1117.9 674.5L1132.7 684.3L1117.9 689.3L1093.2 702.8L1053.8 702.8L1021.7 707.8L960 712.7Z"/>
<path fill="#cc9084" d="M786.4 594.3L816 577L857.9 569.6L897.4 591.8L922.1 581.9L946.7 564.7L956.6 599.2L946.7 616.5L917.1 601.7L907.3 623.9L857.9 633.8L803.6 626.4L786.4 614Z"/>
<path fill="#e6b8af" d="M956.6 604.2L1003.5 601.7L960 611.6L1021.7 631.3L1034 656L1021.7 644.9L997 644.9L987.1 637.5L984.7 621.4L960 621.4L986.2 621.4L971.4 636.2L959.1 638.7Z"/>
<path fill="#cc9084" d="M1098.2 614L1132.7 601.7L1182.1 586.9L1231.4 569.6L1243.7 601.7L1196.9 602.9L1177.1 600.4L1157.4 615.3L1113 632.5Z"/>
</g>
<g filter="url(#blobs30)">
<path fill="#b46c5d" d="M793.8 596.7L857.9 584.4L897.4 591.8L887.5 614L853 623.9L803.6 614Z"/>
<path fill="#9c4532" d="M966.5 567.1L1003.5 562.2L960 562.2L1041.4 569.6L1041.4 596.7L960 601.7L971.4 601.7Z"/>
</g>
<g filter="url(#blobs12)">
<path fill="#f93333" d="M724.7 638.7L781.4 637.5L857.9 641.2L870.2 651L857.9 693L774 700.4L724.7 688Z"/>
<path fill="#f93333" d="M931.9 651L1008.4 660.9L960 663.4L1058.7 678.2L1117.9 648.6L1117.9 668.3L1058.7 688L960 688L931.9 673.2Z"/>
</g>
<g filter="url(#blobs30)">
<path fill="#fd9533" d="M700 720.1L749.3 741.1L798.7 710.2L857.9 707.8L922.1 710.2L946.7 712.7L946.7 728L922.1 721.3L848 723.8L808.6 723.8L759.2 743.6L700 731.2Z"/>
</g>
<g filter="url(#speck)">
<path fill="#b3b3b3" d="M320.3 455.3L342.7 455.3L342.7 491.2L320.3 491.2Z"/>
<path fill="#b3b3b3" d="M347.2 421.7L380.8 421.7L380.8 462.1L347.2 462.1Z"/>
<path fill="#b3b3b3" d="M447.1 461.4L472.2 461.4L472.2 530.5L447.1 530.5Z"/>
<path fill="#b3b3b3" d="M280 428.4L304.6 428.4L304.6 459.8L291.2 448.6Z"/>
</g>
</g>
<path fill="#fff" d="M997.5 406.2L998.8 390L1000 375L1003.8 360L1007.5 347.5L1015 335L1025 325L1035 318.8L1050 314.5L1060 317L1055 325L1045 333.8L1035 342.5L1030 350L1026.2 362.5L1025 375L1028.8 390L1031.2 402.5L1027.5 417.5L1017.5 426.2L1007.5 427.5L1002.5 420L998.8 410ZM993.5 352.5L998 344.5L1004.5 335.5L1012 326.2L1019 320L1027 316.5L1020 325L1012.5 335L1005 347L998 355Z"/>
<path fill="#4d4d4d" d="M1042.5 318.8L1046.2 316.2L1048 319.5L1044.5 322ZM1037 326.2L1040 324.5L1041 328L1038 329.5ZM1033.8 333.8L1037 332L1038 337L1034.5 338Z"/>
<path class="b" d="M261.8 235.8L842.5 235L842.5 226.2L852.5 226.2L853.8 241.2L863.8 243.8L872.5 246.2L882.5 244.5L895 247.5L902.5 252.5L911.2 255L920 258.8L932.5 255L942.5 257.5L955 258.8L963.8 262L955 266.2L942.5 270L930 276.2L920 283.8L910 291.2L903.8 296.2L915 293.8L932.5 290.8L934.5 297.5L942.5 295L952.5 292.5L965 290L975 286.2L982.5 281.2L992.5 276.2L1000 275.5L1001.2 278.8L995 281.2L987.5 287.5L986.2 293.8L995 291.2L1005 297.5L1012.5 301.2L1025 300L1040 295L1058.8 293.8L1060 300L1076.2 301.2L1077.5 312.5L1081.2 315L1070 316L1070 320L1082.5 325L1091.2 332.5L1095 340L1091.2 350L1090 360L1085 367.5L1080.8 372L1084.5 376.5L1092.5 368.8L1100 365L1107.5 370L1110 382.5L1112 392.5L1107.5 405L1100 410L1095 420L1092.5 426.2L1100 432.5L1115 433.8L1130 430L1102.5 433.8L1115 435L1127.5 430L1140 422.5L1152.5 418.8L1167.5 413.8L1170 412.5L1180 406.2L1186.2 398.8L1182.5 392.5L1183.8 386.2L1195 384.5L1210 385L1222.5 386.2L1235 382.5L1242.5 377.5L1240 370L1240 363.8L1250 356.2L1260 346.2L1270 340.5L1302.5 342.5L1341.2 341.2L1343.8 333.8L1350 333.8L1357.5 330L1365 317.5L1367.5 307.5L1372.5 295L1382.5 283.8L1388.8 275.5L1393.8 275.5L1395 280L1410 277.5L1421.2 286.2L1422.5 317.5L1428.8 325L1430 335L1436.2 341.2L1437.5 346.2L1430 352.5L1415 357.5L1402.5 360L1397.5 355L1395 365L1387.5 368.8L1377.5 375L1370 378.8L1365 385L1361.2 392.5L1357.5 395L1361.8 390L1359.6 395.8L1356.7 400.2L1353 406L1351.6 411.9L1356.7 414L1360.3 419.1L1361.8 426.4L1369 428.2L1374.1 429.3L1375.6 424.2L1373.4 418.4L1369 417L1370.5 421.3L1369.8 425.7L1363.2 428.2L1358.1 431.5L1351.6 432.6L1347.2 429.6L1344.3 431.5L1337.7 433.7L1331.2 435.2L1321 436.6L1310.8 438.8L1302 441.7L1294.7 446.1L1291.1 451.2L1287.4 454.8L1283.8 458.5L1290.4 460L1291.1 465.8L1288.9 476L1283.8 484.7L1278.7 490.6L1272.9 497.8L1270 501.5L1265.6 497.8L1261.2 492L1258.3 484.7L1259 479.2L1258.3 483.3L1260.5 492L1264.1 500.8L1267 506.6L1266.3 513.1L1268.8 510.5L1265 520.5L1260 528L1255 538L1251.2 545.5L1248.8 550.5L1252.5 568L1257.5 583L1259.2 593L1252.5 598L1242.5 605.5L1235 615.5L1225 618L1215 625.5L1205 633L1197.5 635.5L1187.5 640.5L1180 650.5L1172.5 660.5L1165 666L1165 666L1152.5 673.5L1142.5 681L1137.5 691L1132.5 703.5L1131.2 716L1133.8 731L1138.8 748.5L1145 766L1150 778.5L1153.8 793.5L1158.8 806L1162.5 818.5L1162.5 833.5L1161.2 846L1157.5 856L1150 863.5L1140 865.2L1136.2 856L1130 843.5L1123.8 831L1117.5 818.5L1111.2 811L1107.5 801L1103.8 791L1106.2 781L1107.5 766L1101.2 756L1092.5 743.5L1085 736L1077.5 732.2L1070 736L1060 741L1050 744L1047.5 738.5L1040 728.5L1035 726L1030 724.8L1015 722.2L1002.5 724.8L997.5 726L994.2 716L992.5 728.5L987.5 724.8L975 727.2L966.2 732.2L970 734L967.5 738.5L960 741L963.8 748.5L970 752.2L973 757.2L967.5 759L962.5 752.2L952.5 751L947.5 754.8L942.5 759.8L932.5 758.5L922.5 751L917.5 743.5L911.2 741L907.5 746L897.5 746L887.5 741L875 741L867.5 742.2L855 747.2L852.5 742.2L847.5 743.5L846.2 751L840 758.5L827.5 766L817.5 771L810 776L800 783.5L795 791L792.5 801L788.8 804.8L792.5 808.5L795 816L798.8 828.5L801.8 841.5L797.5 845.2L790 842.2L780 838.5L770 836L760 832.2L757.5 826L752.5 813.5L750 803.5L742.5 791L735 778.5L730 768.5L725 757.2L718.8 749.8L711.2 742.2L702.5 740.2L692.5 741L682.5 746L680 756L675 764L667.5 759.8L657.5 753.5L647.5 746L642.5 736L638.8 723.5L630 716L620 708.5L618.8 706L610 696L601.2 683.5L602.5 688.5L567.5 688.5L567.5 701L551.2 701L506.2 701L428.8 669L428.8 666L380 669.8L380 666L377.5 658L372.5 650.5L365 643L355 638L350 633L340 628L332.5 620.5L322.5 618L310 615.5L307.5 605.5L302.5 595.5L295 585.5L287.5 575.5L280 565.5L281.2 555.5L277.5 545.5L270 538L267.5 525.5L258.8 523L253.8 513L245 503L241.2 490.5L237.5 475.5L230 465.5L226.2 458L231.2 443L233.8 443L231.2 427.5L228 419.2L227.5 407.5L223.8 398L227.5 385L231.2 370L233.8 355L235 337.5L237 320L237.5 307.5L237.5 302.5L235 295L240 288.8L233.8 288.8L231.2 281.2L227.5 273.8L223.8 266.2L220 257.5L221.2 251.2L232.5 255L245 257.5L257.5 258L262.5 257.5L258.8 250L261.8 243.8L261.8 235.8ZM1293.3 454.1L1302 449.7L1313.7 446.1L1325.3 442.5L1334.8 444.2L1325.3 449.7L1316.6 453.4L1304.9 457L1293.3 458.5ZM997.5 406.2L998.8 390L1000 375L1003.8 360L1007.5 347.5L1015 335L1025 325L1035 318.8L1050 314.5L1060 317L1055 325L1045 333.8L1035 342.5L1030 350L1026.2 362.5L1025 375L1028.8 390L1031.2 402.5L1027.5 417.5L1017.5 426.2L1007.5 427.5L1002.5 420L998.8 410ZM993.5 352.5L998 344.5L1004.5 335.5L1012 326.2L1019 320L1027 316.5L1020 325L1012.5 335L1005 347L998 355Z"/>
<path class="b" d="M382.8 235.8L382.8 313.8L393.8 320L392.5 330L386.2 340L380 350L378 357.5L385 362.5L382.8 370L382.8 418.8M237.5 307.5L250 308L258.8 312.5L261.2 322.5L270 326.2L282.5 322.5L295 323.8L310 321.2L327.5 317L342.5 315L362.5 314L382.8 313.8M403 235.8L403 262.5L408.8 271.2L410 277.5L420 282.5L428.8 293.8L438.8 297.5L436.2 315L435 325L438.8 328.8L447.5 322.5L452.5 330L457.5 342.5L465 347.5L470 357L480 353.8L500 352L502.5 347.5L508.8 355M228 419.2L508.8 419.2M508.8 341.2L508.8 443M508.8 341.2L656.2 341.2M656.2 235.8L656.2 443L656.2 445.5M656.2 315.5L812.5 315.5M656.2 392.5L772.5 392.5L782.5 398.8L795 396.2L807.5 400L812.5 398.8M800 235.8L801.2 250L805 265L808 280L809.5 295L812.5 307.5L813.8 316.2L808.8 322.5L812.5 327.5L817 331.2L817.5 380L812.5 382.5L815 392.5L812.5 398.8M812.5 398.8L817.5 410L822.5 425L827.5 443L830 453L835 465.5L837.5 472.5L845 475.5L847.5 483L853.8 493L855 495.5L855 564.8L858.8 603L860 641.8L867.5 643L867.5 656.8M817.5 380L926.2 378.8M903.8 296.2L902.5 312.5L892.5 320L891.2 327.5L893.8 340L895 347.5L907.5 353.8L917.5 362.5L925 370L926.2 378.8L930 387.5L927.5 395L935 403.8L940 406.2L947.5 415L950 422.5L943.8 431.2L931.2 436.2L930 443L932.5 443L927.5 450.5L920 458L921.2 470.5L927.5 483L935 493L938.8 501.8L947.5 504.2L950 510.5L945 518L952.5 525.5L960 533L965 541.8L967.5 548L971.2 553L968.8 560.5L962.5 568L958.8 578L955 585.5L948.8 593L951.2 599.2L945 605.5L940 615.5L935 625.5L930 635.5L927.5 645.5L928.8 655.5L927.5 666L931.2 666L930 676L926.2 681L923.8 691L920 701L917.5 710.5L958.8 711L960 721L962.5 728.5L966.2 732.2M934.5 297.5L947.5 305L970 311.2L990 316.2L997.5 322.5L1000 331.2L1005 335.5M940 406.2L997.5 406.2M831.2 455L918.8 455L923.8 453L930 448L932.5 443M698.2 472.5L837.5 472.5M698.2 445.5L698.2 551M508.8 445.5L698.2 445.5M446.2 551L855 551M551.2 445.5L551.2 666L551.2 701M446.2 419.2L446.2 550.5L443.8 575.5L437.5 578L433.8 575.5L432.5 583L433.8 593L432.5 603L436.2 613L442.5 624.2L435 633L432.5 643L431.2 650.5L435 658L436.2 663L428.8 667.2M320 419.2L320 499.2L432.5 603M677.5 551L677.5 666L677.5 683.5L620 683.5L601.2 683.5M677.5 565L741.2 565L741.2 615.5L750 620.5L760 625.5L770 629.2L782.5 633L795 636.8L805 635.5L817.5 638L827.5 633L837.5 631.8L847.5 636.8L857.5 641.8L866.2 643M855 564.8L947.5 564.8L952.5 570.5L947.5 576.8L956.2 578M867.5 656.8L926.2 656.8M867.5 656.8L867.5 666L867.5 666L868.8 681L873.8 693.5L877.5 708.5L875 723.5L872.5 736L870 742.2M1004.2 427.5L1004.2 443L1004.2 443L1002.5 493L1003.8 505.5L997.5 515.5L992.5 525.5M971.2 553L975 545.5L985 543L990 538L991.2 528L992.5 525.5L1002.5 526.8L1012.5 530.5L1022.5 525.5L1032.5 523L1042.5 515.5L1050 505.5L1062.5 503L1063.8 495.5L1070 500.5L1082.5 505.5L1095 509.2L1105 506.8L1110 513L1120 500.5L1130 496.8L1137.5 490.5L1145 480.5L1155 463L1151.2 455.5L1152.5 443M1062.5 425.5L1062.5 443L1061.2 443L1062 496.8M1017.5 425.5L1092.5 425.5M1152.5 418.8L1152.5 443L1152.5 443L1151.2 480L1252.5 480M967.5 562.5L993.8 565.5L993.8 560L1040 561L1127.5 563L1250 564.2M1110 513L1109.2 523L1117.5 534.2L1125 541.8L1125 544.2L1115 543L1105 550.5L1095 558L1086.2 561.5M1125 544.2L1135 545.5L1147.5 540.5L1157.5 536.8L1162.5 525.5L1170 518L1176.2 509.2L1185 505.5L1195 495.5L1200 488L1205 493L1212.5 490.5M1172.5 480L1172.5 493L1180 489.2L1190 483L1197.5 486.8L1205 493L1212.5 490.5L1220 498L1227.5 501.8L1225 508L1220 513L1230 518L1240 525.5L1246.2 531.8M1127.5 563.8L1122.5 570.5L1112.5 578L1102.5 583L1090 588L1077.5 595.5L1071.2 603.5M952.5 603L1070 604L1071.2 604L1092.5 606M1092.5 610L1102.5 603L1115 599.2L1140 600.5L1147.5 608L1170 609.2L1195 633L1200 632.2M1091.2 608L1092.5 610.5L1100 623L1110 635.5L1120 648L1130 658L1133.8 666L1133.8 666L1137.5 676L1142.5 681M992.5 604.2L986.2 666L983.8 666L987.5 724.8M1043.8 604.2L1055 666L1055 666L1057.5 681L1056.2 696L1057.5 709L1060 716L1117.5 719.8L1118.8 726.8L1122.5 714.8L1132.5 716M1057.5 709L1001.2 709L1003.8 718.5L1002.5 724.8M1167.5 419.2L1260 419.2L1261.2 419.1L1267 426.4L1268.5 431.5L1272.9 435.9L1268.5 441L1264.1 448.3L1263.4 455.6L1268.5 461.4L1275.1 468.7L1268.5 471.6L1262.7 476L1258.3 477.4L1254.6 478.9M1272.9 435.9L1293.3 446.1M1252.5 478.2L1253.2 512.4L1266.3 513.1M1302.5 342.5L1301.2 360L1300 375L1302.5 382.5L1305 399.5L1304.2 400.2L1302 419.1L1300.6 433.7L1299.1 441L1294.7 445.7M1343.8 333.8L1341.2 342.5L1337.5 352.5L1330 360L1327.5 370L1323.8 380L1321.2 390L1320 399.5M1350 333.8L1356.2 392.5L1358 395.5M1305 399.5L1347.5 399.5L1356.7 400.2M1302 419.1L1345.7 419.1L1347.2 428.2M1337.7 419.6L1337.7 433.7M1253.8 513.5L1265 514.8"/>
<path fill="none" stroke="#000" stroke-width="5" stroke-linejoin="round" stroke-linecap="round" d="M261.8 243.8L256.2 245L255 248.8L262.5 247L266.2 252.5L267.5 260L270 265L271.2 272.5L267.5 277.5L258.8 273.8L256.2 280L260 285.5L265 282.5L268.8 278.8"/>
<path fill="none" stroke="#000" stroke-width="5" stroke-linejoin="round" stroke-linecap="round" d="M258.8 257.5L263.8 261.2L261.2 267.5L265.5 270"/>
<path fill="none" stroke="#000" stroke-width="6" stroke-linejoin="round" stroke-linecap="round" d="M267 523.5L271.2 528L272.5 535L276.2 539.2"/>
<path fill="none" stroke="#000" stroke-width="4" stroke-linejoin="round" stroke-linecap="round" d="M1240 485.5L1237.5 493L1238.8 503L1240 513L1242.5 523L1243.8 533L1246.2 543L1248.8 550.5"/>
<path fill="none" stroke="#000" stroke-width="4" stroke-linejoin="round" stroke-linecap="round" d="M1242.5 525.5L1232.5 518L1226.2 515.5L1223.8 509.2"/>
<path fill="none" stroke="#000" stroke-width="4" stroke-linejoin="round" stroke-linecap="round" d="M1243.8 534.2L1235 529.2L1227.5 523"/>
<path fill="none" stroke="#000" stroke-width="4" stroke-linejoin="round" stroke-linecap="round" d="M1245 541.8L1236.2 536.8L1230 533"/>
<path fill="none" stroke="#000" stroke-width="4" stroke-linejoin="round" stroke-linecap="round" d="M1247.5 550.5L1238.8 546.8L1231.2 543L1226.2 545.5"/>
<path fill="none" stroke="#000" stroke-width="4" stroke-linejoin="round" stroke-linecap="round" d="M1237.5 493L1240 500.5L1236.2 508L1240 518"/>
<path fill="none" stroke="#000" stroke-width="4.5" stroke-linejoin="round" stroke-linecap="round" d="M1231.2 568L1232.5 578L1240 573L1247.5 578L1251.2 585.5L1245 590.5L1240 585.5L1235 590.5L1226.2 593L1232.5 598L1240 595.5L1237.5 603L1230 605.5L1222.5 613L1217.5 615.5"/>
<path fill="none" stroke="#000" stroke-width="6" stroke-linejoin="round" stroke-linecap="round" d="M1103.8 788.5L1107.5 794L1110.5 792.2"/>
<path fill="none" stroke="#000" stroke-width="5" stroke-linejoin="round" stroke-linecap="round" d="M1115 816L1118 819"/>
<path fill="none" stroke="#000" stroke-width="5" stroke-linejoin="round" stroke-linecap="round" d="M1138.8 862.2L1142.5 863.5"/>
<path fill="none" stroke="#000" stroke-width="5" stroke-linejoin="round" stroke-linecap="round" d="M1355.2 436.3L1363.9 436.9"/>
<path fill="none" stroke="#000" stroke-width="5" stroke-linejoin="round" stroke-linecap="round" d="M1369 438.1L1374.9 438.4"/>
<path fill="none" stroke="#000" stroke-width="4" stroke-linejoin="round" stroke-linecap="round" d="M945 731L950 727.2L957.5 729.8L960 734.8L952.5 736.5L945 733.5L945 731"/>
<path fill="none" stroke="#000" stroke-width="4" stroke-linejoin="round" stroke-linecap="round" d="M846.2 751L848.8 744.8L853.8 741"/>
<path fill="none" stroke="#000" stroke-width="4" stroke-linejoin="round" stroke-linecap="round" d="M810 776L813.8 772.2L820 769"/>
<path fill="none" stroke="#000" stroke-width="4" stroke-linejoin="round" stroke-linecap="round" d="M788.8 804.8L792.5 803"/>
<path fill="none" stroke="#000" stroke-width="4" stroke-linejoin="round" stroke-linecap="round" d="M1045 337.5L1048 345"/>
<path fill="none" stroke="#000" stroke-width="3.2" stroke-linejoin="round" stroke-linecap="round" d="M1246.6 483.4L1240.5 487.4L1235.5 492.5L1234.5 500.5L1235.5 510.6L1237.5 520.7L1240.5 530.8L1238.5 540.9L1240.5 548.9L1246.6 554L1248.6 554L1247.6 544.9L1250.6 536.8L1254.6 528.8L1251.6 520.7L1247.6 514.6L1245.6 506.6L1244.6 496.5L1246.6 486.4L1249.6 481.4L1246.6 483.4"/>
<path fill="none" stroke="#ffff00" stroke-width="2.5" stroke-linecap="round" stroke-dasharray="7 4 14 5" d="M1100 878.5L1120 879L1135 874.8L1147.5 869.8L1155 861L1158.8 854.8"/>
<text class="lt" x="1481" y="323.2">Earliest</text>
<text class="lt" x="1481" y="351.1">date of 3rd</text>
<text class="lt" x="1481" y="379.1">gen. larval</text>
<text class="lt" x="1481" y="407.0">development</text>
<rect x="1481" y="421.00" width="25.3" height="25.77" fill="#4d4d4d"/><text class="ll" x="1517.5" y="441.2">excl.-sev.</text>
<rect x="1481" y="446.47" width="25.3" height="25.77" fill="#b3b3b3"/><text class="ll" x="1517.5" y="466.7">excl.-mod.</text>
<rect x="1481" y="471.94" width="25.3" height="25.77" fill="#ffff00"/><text class="ll" x="1517.5" y="492.1">May-03</text>
<rect x="1481" y="497.41" width="25.3" height="25.77" fill="#e0d800"/><text class="ll" x="1517.5" y="517.6">May-10</text>
<rect x="1481" y="522.88" width="25.3" height="25.77" fill="#bdac03"/><text class="ll" x="1517.5" y="543.1">May-17</text>
<rect x="1481" y="548.35" width="25.3" height="25.77" fill="#9a800a"/><text class="ll" x="1517.5" y="568.6">May-24</text>
<rect x="1481" y="573.82" width="25.3" height="25.77" fill="#7b5c07"/><text class="ll" x="1517.5" y="594.0">May-31</text>
<rect x="1481" y="599.29" width="25.3" height="25.77" fill="#fdd890"/><text class="ll" x="1517.5" y="619.5">Jun-07</text>
<rect x="1481" y="624.76" width="25.3" height="25.77" fill="#fdc070"/><text class="ll" x="1517.5" y="645.0">Jun-14</text>
<rect x="1481" y="650.23" width="25.3" height="25.77" fill="#fdaa52"/><text class="ll" x="1517.5" y="670.4">Jun-21</text>
<rect x="1481" y="675.70" width="25.3" height="25.77" fill="#fd9533"/><text class="ll" x="1517.5" y="695.9">Jun-28</text>
<rect x="1481" y="701.17" width="25.3" height="25.77" fill="#f4cccc"/><text class="ll" x="1517.5" y="721.4">Jul-05</text>
<rect x="1481" y="726.64" width="25.3" height="25.77" fill="#f49a9a"/><text class="ll" x="1517.5" y="746.8">Jul-12</text>
<rect x="1481" y="752.11" width="25.3" height="25.77" fill="#f56666"/><text class="ll" x="1517.5" y="772.3">Jul-19</text>
<rect x="1481" y="777.58" width="25.3" height="25.77" fill="#f93333"/><text class="ll" x="1517.5" y="797.8">Jul-26</text>
<rect x="1641" y="421.00" width="25.3" height="25.77" fill="#e6b8af"/><text class="ll" x="1677.5" y="441.2">Aug-02</text>
<rect x="1641" y="446.47" width="25.3" height="25.77" fill="#cc9084"/><text class="ll" x="1677.5" y="466.7">Aug-09</text>
<rect x="1641" y="471.94" width="25.3" height="25.77" fill="#b46c5d"/><text class="ll" x="1677.5" y="492.1">Aug-16</text>
<rect x="1641" y="497.41" width="25.3" height="25.77" fill="#9c4532"/><text class="ll" x="1677.5" y="517.6">Aug-23</text>
<rect x="1641" y="522.88" width="25.3" height="25.77" fill="#85200c"/><text class="ll" x="1677.5" y="543.1">Aug-30</text>
<rect x="1641" y="548.35" width="25.3" height="25.77" fill="#ffb0dd"/><text class="ll" x="1677.5" y="568.6">Sep-06</text>
<rect x="1641" y="573.82" width="25.3" height="25.77" fill="#ff85e0"/><text class="ll" x="1677.5" y="594.0">Sep-13</text>
<rect x="1641" y="599.29" width="25.3" height="25.77" fill="#ff58e8"/><text class="ll" x="1677.5" y="619.5">Sep-20</text>
<rect x="1641" y="624.76" width="25.3" height="25.77" fill="#ff2df2"/><text class="ll" x="1677.5" y="645.0">Sep-27</text>
<rect x="1641" y="650.23" width="25.3" height="25.77" fill="#e0c0e8"/><text class="ll" x="1677.5" y="670.4">Oct-04</text>
<rect x="1641" y="675.70" width="25.3" height="25.77" fill="#c996d6"/><text class="ll" x="1677.5" y="695.9">Oct-11</text>
<rect x="1641" y="701.17" width="25.3" height="25.77" fill="#b370c6"/><text class="ll" x="1677.5" y="721.4">Oct-18</text>
<rect x="1641" y="726.64" width="25.3" height="25.77" fill="#9c4ab6"/><text class="ll" x="1677.5" y="746.8">Oct-25</text>
<rect x="1641" y="752.11" width="25.3" height="25.77" fill="#b3ecff"/><text class="ll" x="1677.5" y="772.3">Nov-01</text>
<rect x="1641" y="777.58" width="25.3" height="25.77" fill="#86d4f2"/><text class="ll" x="1677.5" y="797.8">Nov-08</text>
<rect x="1765" y="421.00" width="25.3" height="25.77" fill="#5abce6"/><text class="ll" x="1803" y="441.2">Nov-15</text>
<rect x="1765" y="446.47" width="25.3" height="25.77" fill="#2ea4da"/><text class="ll" x="1803" y="466.7">Nov-22</text>
<rect x="1765" y="471.94" width="25.3" height="25.77" fill="#038cd0"/><text class="ll" x="1803" y="492.1">Nov-29</text>
<rect x="1765" y="497.41" width="25.3" height="25.77" fill="#a4c2e8"/><text class="ll" x="1803" y="517.6">Dec-06</text>
<rect x="1765" y="522.88" width="25.3" height="25.77" fill="#7a8fea"/><text class="ll" x="1803" y="543.1">Dec-13</text>
<rect x="1765" y="548.35" width="25.3" height="25.77" fill="#525cf0"/><text class="ll" x="1803" y="568.6">Dec-20</text>
<rect x="1765" y="573.82" width="25.3" height="25.77" fill="#2a2df5"/><text class="ll" x="1803" y="594.0">Dec-27</text>
</svg></body></html>
